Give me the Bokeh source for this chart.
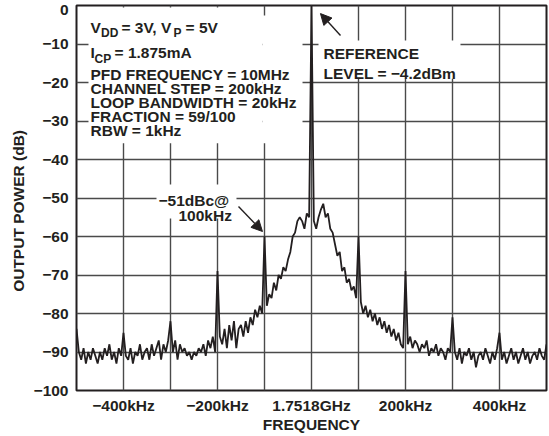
import numpy as np
from bokeh.plotting import figure
from bokeh.models import FixedTicker, Arrow, NormalHead, Range1d
from bokeh.core.properties import value
from bokeh.embed import file_html
from bokeh.resources import INLINE

# Spectrum sweep: 1.7518 GHz carrier, +/-500 kHz span, 5 kHz bins
power_db = [
    -84, -90, -92, -89, -93, -90, -92, -89, -91, -93,   # -500 .. -455
    -90, -92, -89, -91, -88, -92, -90, -93, -89, -91,   # -450 .. -405
    -85, -91, -92, -89, -93, -90, -91, -88, -92, -90,   # -400 .. -355
    -89, -92, -88, -91, -89, -87, -92, -88, -90, -87,   # -350 .. -305
    -82, -90, -87, -92, -88, -90, -89, -91, -90, -92,   # -300 .. -255
    -90, -91, -89, -90, -88, -91, -87, -89, -86, -90,   # -250 .. -205
    -69, -86, -88, -84, -89, -83, -87, -82, -89, -84,   # -200 .. -155
    -83, -86, -82, -85, -81, -83, -79, -81, -78, -80,   # -150 .. -105
    -60, -78, -75, -76, -72, -74, -70, -71, -68, -69,   # -100 .. -55
    -66, -64, -60, -59, -56, -55, -56, -58, -54, -55,   # -50 .. -5
    0,                                                  # carrier
    -56, -58, -55, -53, -51.5, -55, -54, -58, -59, -62,  # 5 .. 50
    -65, -64, -69, -68, -72, -71, -74, -73, -76, -60,   # 55 .. 100
    -77, -80, -78, -81, -79, -82, -80, -83, -81, -84,   # 105 .. 150
    -82, -85, -83, -86, -84, -87, -85, -88, -89, -69,   # 155 .. 200
    -88, -86, -89, -87, -88, -90, -88, -89, -87, -91,   # 205 .. 250
    -89, -90, -88, -91, -89, -90, -92, -89, -90, -81,   # 255 .. 300
    -90, -92, -89, -93, -90, -91, -89, -92, -90, -94,   # 305 .. 350
    -91, -90, -92, -89, -91, -93, -90, -92, -89, -85,   # 355 .. 400
    -92, -90, -93, -91, -89, -92, -90, -93, -91, -89,   # 405 .. 450
    -92, -90, -93, -91, -90, -92, -89, -91, -92, -88,   # 455 .. 500
]
offset_khz = np.linspace(-500, 500, len(power_db))

x_ticks = list(range(-500, 501, 100))
x_tick_labels = {-400: "\u2212400kHz", -200: "\u2212200kHz", 0: "1.7518GHz",
                 200: "200kHz", 400: "400kHz"}
y_grid_ticks = list(range(-100, 1, 10))
# the "0" label sits a little below the top edge so it stays on the canvas
y_label_ticks = list(range(-100, 0, 10)) + [-1.1]
y_tick_labels = {t: "\u2212%d" % -t for t in range(-100, 0, 10)}
y_tick_labels[-1.1] = "0"

INK = "#231f20"
FONT = value("Liberation Sans")
SIZE = "15.5px"
SUB = "12px"

p = figure(width=549, height=436,
           x_range=Range1d(-500, 500), y_range=Range1d(-100, 0),
           output_backend="svg", toolbar_location=None,
           min_border_left=76, min_border_right=3,
           min_border_top=5, min_border_bottom=46,
           background_fill_color="white", border_fill_color="white")

p.outline_line_color = INK
p.outline_line_width = 2

p.xaxis.ticker = FixedTicker(ticks=x_ticks)
p.xaxis.major_label_overrides = {t: x_tick_labels.get(t, "") for t in x_ticks}
p.yaxis.ticker = FixedTicker(ticks=y_label_ticks)
p.yaxis.major_label_overrides = y_tick_labels
p.ygrid.ticker = FixedTicker(ticks=y_grid_ticks)
p.xaxis.axis_label = "FREQUENCY"
p.yaxis.axis_label = "OUTPUT POWER (dB)" + "\u00a0" * 6

for ax in (p.xaxis[0], p.yaxis[0]):
    ax.axis_line_color = None
    ax.major_tick_line_color = None
    ax.minor_tick_line_color = None
    ax.major_tick_in = 0
    ax.major_tick_out = 0
    ax.major_label_text_font = "Liberation Sans"
    ax.major_label_text_font_style = "bold"
    ax.major_label_text_font_size = SIZE
    ax.major_label_text_color = INK
    ax.axis_label_text_font = "Liberation Sans"
    ax.axis_label_text_font_style = "bold"
    ax.axis_label_text_font_size = SIZE
    ax.axis_label_text_color = INK
p.xaxis.major_label_standoff = 6
p.xaxis.axis_label_standoff = -1
p.yaxis.major_label_standoff = 8
p.yaxis.axis_label_standoff = 4

p.grid.grid_line_color = "#4a4a4a"
p.grid.grid_line_width = 1.4

# white panels behind the annotation texts
p.quad(left=[-474.5, -104.3, 14.9, -329.8],
       right=[-104.3, -19.1, 317.0, -159.6],
       top=[-0.5, -2.6, -9.1, -46.5],
       bottom=[-35.8, -35.8, -19.0, -55.3],
       fill_color="white", line_color=None)

# spectrum trace
p.line(offset_khz, power_db, line_color=INK, line_width=1.8)

def txt(xs, ys, texts, size=SIZE):
    p.text(x=xs, y=ys, text=texts, text_font=FONT, text_font_style="bold",
           text_font_size=size, text_color=INK,
           text_align="left", text_baseline="alphabetic")

# test-condition block
txt([-470.2, -404.3, -268.0], [-5.71] * 3, ["V", "= 3V, V", "= 5V"])
txt([-447.9, -293.6], [-7.27] * 2, ["DD", "P"], size=SUB)
txt([-470.2, -419.1], [-12.21] * 2, ["I", "= 1.875mA"])
txt([-461.7], [-13.77], ["CP"], size=SUB)
txt([-470.2] * 5, [-17.92, -21.56, -25.19, -28.83, -32.47],
    ["PFD FREQUENCY = 10MHz", "CHANNEL STEP = 200kHz",
     "LOOP BANDWIDTH = 20kHz", "FRACTION = 59/100", "RBW = 1kHz"])

# carrier callout
txt([25.5, 25.5], [-12.47, -17.66], ["REFERENCE", "LEVEL = \u22124.2dBm"])
# spur callout
txt([-325.5, -283.0], [-50.65, -54.55], ["\u221251dBc@", "100kHz"])

for xs, ys, xe, ye in [(61.7, -7.8, 19.1, -2.1), (-155.3, -52.2, -104.3, -58.7)]:
    p.add_layout(Arrow(end=NormalHead(size=11, fill_color=INK, line_color=INK),
                       x_start=xs, y_start=ys, x_end=xe, y_end=ye,
                       line_color=INK, line_width=1.4))

open("out.html", "w").write(file_html(p, INLINE))
